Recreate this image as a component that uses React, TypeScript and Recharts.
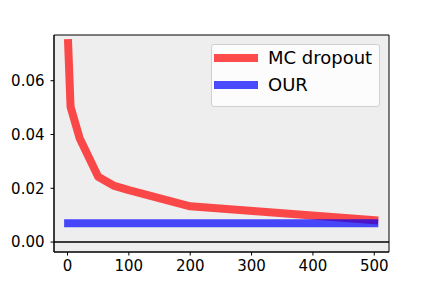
import * as React from "react";
import {
  LineChart,
  Line,
  XAxis,
  YAxis,
  ReferenceArea,
  ReferenceLine,
} from "recharts";

// Sample sizes on the x axis
const sizes = [1, 5, 20, 50, 75, 100, 200, 500];
// Error of MC dropout (red) and our method (blue)
const mcDropout = [0.074, 0.0503, 0.0385, 0.0243, 0.021, 0.0193, 0.0133, 0.0081];
const ours = [0.007, 0.007, 0.007, 0.007, 0.007, 0.007, 0.007, 0.007];

const xTicks = [0, 100, 200, 300, 400, 500];
const yTicks = [0, 0.02, 0.04, 0.06];
const xDomain: [number, number] = [-22, 524];
const yDomain: [number, number] = [-0.0037, 0.077];

const data = sizes.map((n, i) => ({ n, mc: mcDropout[i], our: ours[i] }));

const RED = "rgba(255,0,0,0.7)";
const BLUE = "rgba(0,0,255,0.7)";
const FONT = "'DejaVu Sans', sans-serif";

function LegendBox() {
  const row = (color: string, label: string) => (
    <div style={{ display: "flex", alignItems: "center", height: 26.6 }}>
      <div style={{ width: 44, height: 8, background: color, marginLeft: 2, marginRight: 10 }} />
      <span style={{ fontSize: 18, fontFamily: FONT, color: "#000", lineHeight: "18px" }}>{label}</span>
    </div>
  );
  return (
    <div
      style={{
        position: "absolute",
        left: 211,
        top: 44,
        width: 167,
        height: 61,
        border: "1px solid #d0d0d0",
        borderRadius: 3,
        background: "rgba(255,255,255,0.8)",
        boxSizing: "content-box",
      }}
    >
      {row(RED, "MC dropout")}
      {row(BLUE, "OUR")}
    </div>
  );
}

export default function App() {
  return (
    <div style={{ position: "absolute", left: 0, top: 0, width: 432, height: 288, background: "#fff" }}>
      <LineChart
        width={432}
        height={288}
        data={data}
        margin={{ top: 35, right: 43, left: 0, bottom: 0 }}
      >
        <ReferenceArea
          x1={xDomain[0]}
          x2={xDomain[1]}
          y1={yDomain[0]}
          y2={yDomain[1]}
          fill="#eeeeee"
          fillOpacity={1}
          stroke="#000"
          strokeWidth={1}
        />
        <XAxis
          type="number"
          dataKey="n"
          domain={xDomain}
          ticks={xTicks}
          allowDataOverflow
          height={36}
          tickSize={3.5}
          tickMargin={5}
          stroke="#000"
          tick={{ fontSize: 15, fontFamily: FONT, fill: "#000" }}
          tickLine={{ stroke: "#000" }}
        />
        <YAxis
          type="number"
          domain={yDomain}
          ticks={yTicks}
          allowDataOverflow
          width={54}
          tickSize={3.5}
          tickMargin={6}
          stroke="#000"
          tickFormatter={(v: number) => v.toFixed(2)}
          tick={{ fontSize: 15, fontFamily: FONT, fill: "#000" }}
          tickLine={{ stroke: "#000" }}
        />
        <ReferenceLine y={0} stroke="#000" strokeWidth={1.6} />
        <Line
          dataKey="mc"
          name="MC dropout"
          stroke={RED}
          strokeWidth={8}
          strokeLinecap="square"
          strokeLinejoin="round"
          dot={false}
          activeDot={false}
          isAnimationActive={false}
        />
        <Line
          dataKey="our"
          name="OUR"
          stroke={BLUE}
          strokeWidth={8}
          strokeLinecap="square"
          dot={false}
          activeDot={false}
          isAnimationActive={false}
        />
      </LineChart>
      <LegendBox />
    </div>
  );
}
